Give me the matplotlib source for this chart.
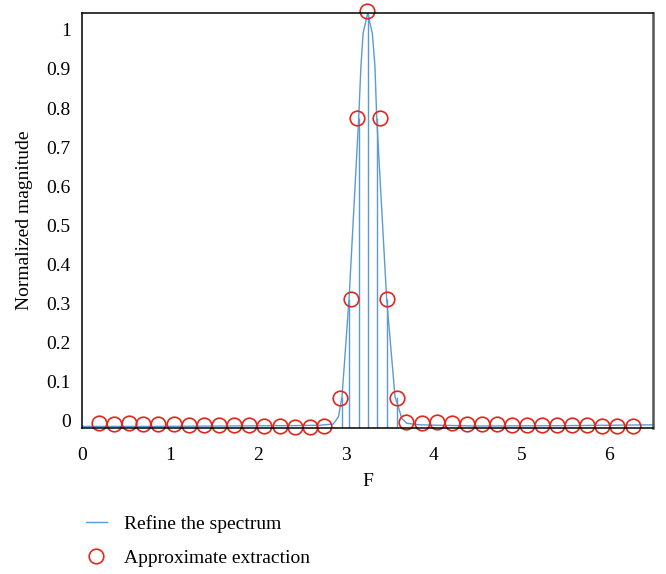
import matplotlib
matplotlib.use("Agg")
import matplotlib.pyplot as plt
from matplotlib.ticker import FuncFormatter

# approximate extraction (red circles)
circ_f = [0.19, 0.36, 0.53, 0.70, 0.87, 1.05, 1.22, 1.39, 1.56, 1.73, 1.90, 2.07,
          2.25, 2.42, 2.59, 2.76,
          2.94, 3.06, 3.13, 3.25, 3.39, 3.47, 3.59,
          3.69, 3.87, 4.04, 4.21, 4.38, 4.55, 4.72, 4.89, 5.06, 5.24, 5.41, 5.58,
          5.75, 5.92, 6.09, 6.27]
circ_mag = [-0.006, -0.007, -0.006, -0.007, -0.009, -0.009, -0.010, -0.010, -0.010,
            -0.011, -0.011, -0.012, -0.014, -0.015, -0.015, -0.014,
            0.059, 0.312, 0.775, 1.049, 0.775, 0.312, 0.059,
            -0.004, -0.005, -0.004, -0.005, -0.008, -0.009, -0.009, -0.010, -0.010,
            -0.010, -0.010, -0.010, -0.011, -0.012, -0.012, -0.012]

# refined spectrum (blue envelope)
ref_f = [0.00, 0.80, 1.60, 2.40, 2.71, 2.86, 2.92, 2.94, 2.96, 3.04, 3.15, 3.175,
         3.20, 3.252, 3.305, 3.335, 3.355, 3.468, 3.563, 3.600, 3.639, 3.696, 3.85,
         4.5, 5.5, 6.5]
ref_mag = [-0.014, -0.014, -0.013, -0.012, -0.011, -0.008, 0.011, 0.037, 0.062,
           0.312, 0.775, 0.906, 0.991, 1.043, 0.991, 0.906, 0.775, 0.312, 0.062,
           0.037, 0.007, -0.006, -0.010, -0.013, -0.012, -0.010]

# stems of the refined spectrum
stem_f = [2.959, 3.039, 3.150, 3.252, 3.355, 3.468, 3.582]
stem_mag = [0.06, 0.312, 0.775, 1.043, 0.775, 0.312, 0.06]

blue = '#5b9bd5'
red = '#e2261c'

plt.rcParams['font.family'] = ['Liberation Serif', 'DejaVu Serif']

fig = plt.figure(figsize=(6.66, 5.74), dpi=100)
ax = fig.add_axes([0.1231, 0.2544, 0.8574, 0.7230])

ymin = -0.018
ax.plot(ref_f, ref_mag, color=blue, lw=1.0, label='Refine the spectrum')
ax.vlines(stem_f, ymin, stem_mag, color=blue, lw=1.0)
ax.plot(circ_f, circ_mag, 'o', ms=10.5, mfc='none', mec=red, mew=1.2,
        clip_on=False, label='Approximate extraction')

ax.set_xlim(0, 6.5)
ax.set_ylim(ymin, 1.043)
ax.set_xticks(range(0, 7))
ax.set_yticks([i / 10 for i in range(11)])
ax.yaxis.set_major_formatter(FuncFormatter(lambda v, p: f'{v:g}'))
ax.tick_params(length=0, labelsize=14)
ax.tick_params(axis='x', pad=14)
ax.tick_params(axis='y', pad=8)

for s in ['top', 'left', 'bottom']:
    ax.spines[s].set_color('black')
    ax.spines[s].set_linewidth(1.1)
ax.spines['right'].set_color('#555555')
ax.spines['right'].set_linewidth(1.8)

ax.set_xlabel('F', fontsize=14, labelpad=6)
ax.set_ylabel('Normalized magnitude', fontsize=14, labelpad=10)

fig.legend(loc='upper left', bbox_to_anchor=(0.117, 0.116), frameon=False,
           fontsize=14, handlelength=1.1, labelspacing=0.85, handletextpad=0.85,
           borderaxespad=0)

fig.savefig('out.png', dpi=100)
